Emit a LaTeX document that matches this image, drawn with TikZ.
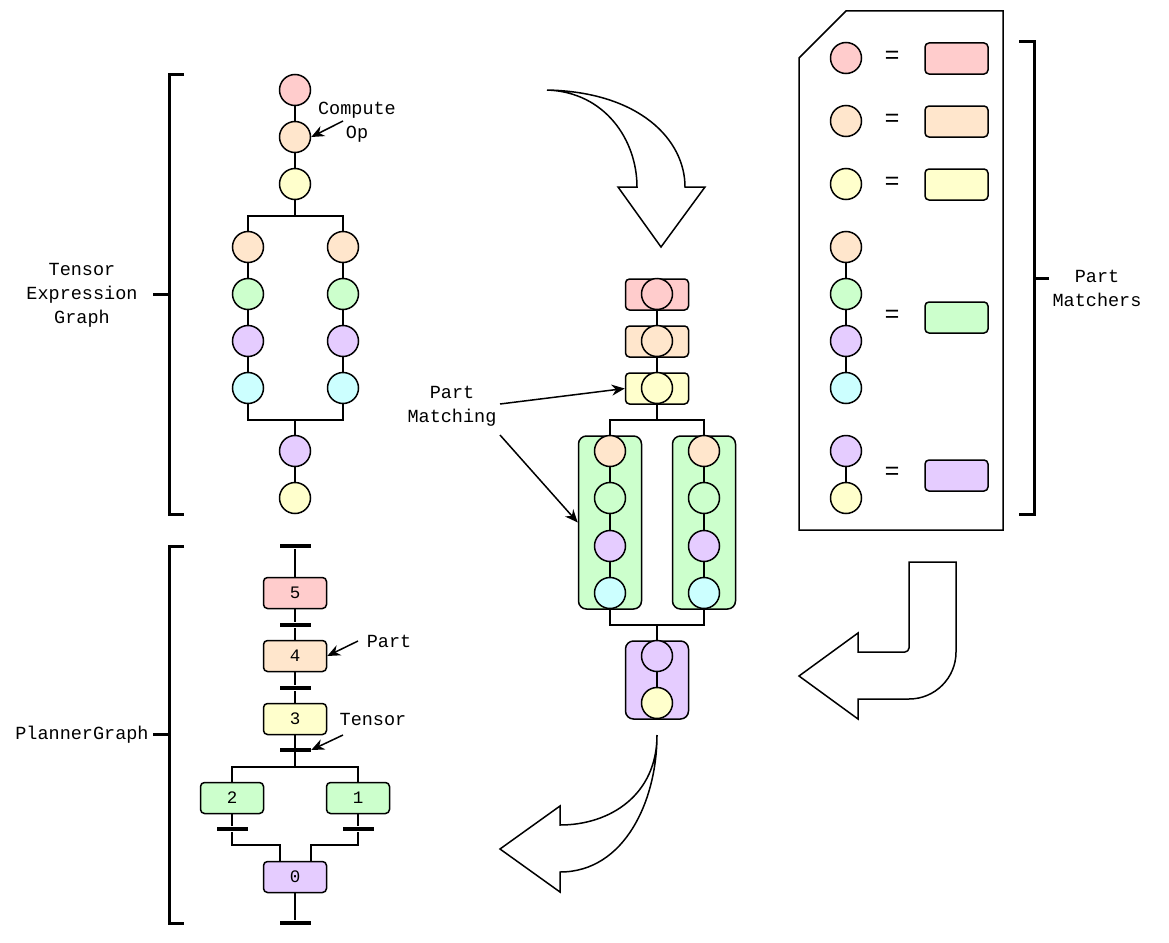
\documentclass[tikz,border=0pt]{standalone}
\usepackage{fontspec}
\setmainfont{Liberation Mono}
\usetikzlibrary{arrows.meta}

\definecolor{cred}{HTML}{FFCCCC}
\definecolor{corange}{HTML}{FFE6CC}
\definecolor{cyellow}{HTML}{FFFFCC}
\definecolor{cgreen}{HTML}{CCFFCC}
\definecolor{cpurple}{HTML}{E5CCFF}
\definecolor{ccyan}{HTML}{CCFFFF}

\begin{document}
\begin{tikzpicture}[x=1pt,y=-1pt,line width=1.5pt,
  op/.style={circle,draw,minimum size=31,inner sep=0},
  part/.style={draw,rounded corners=4,minimum width=63,minimum height=31,inner sep=0,font=\fontsize{17.5}{20}\selectfont},
  group/.style={draw,rounded corners=8,minimum width=63,inner sep=0},
  bar/.style={fill=black,minimum width=31,minimum height=4.5,inner sep=0},
  brace/.style={line width=3pt},
  lbl/.style={align=center,font=\fontsize{18.5}{24}\selectfont},
  eq/.style={font=\fontsize{25}{25}\selectfont},
  pointer/.style={-{Stealth[length=13pt,width=11pt]}},
  bigarrow/.style={draw,fill=white,line join=miter}]

\useasboundingbox (0,0) rectangle (1169,942);

% tensor expression graph
\node[op,fill=cred] (c1) at (295,90) {};
\node[op,fill=corange] (c2) at (295,137) {};
\node[op,fill=cyellow] (c3) at (295,184) {};
\node[op,fill=corange] (l1) at (248,247) {};
\node[op,fill=cgreen] (l2) at (248,294) {};
\node[op,fill=cpurple] (l3) at (248,341) {};
\node[op,fill=ccyan] (l4) at (248,388) {};
\node[op,fill=corange] (r1) at (343,247) {};
\node[op,fill=cgreen] (r2) at (343,294) {};
\node[op,fill=cpurple] (r3) at (343,341) {};
\node[op,fill=ccyan] (r4) at (343,388) {};
\node[op,fill=cpurple] (c4) at (295,451) {};
\node[op,fill=cyellow] (c5) at (295,498) {};
\coordinate (j1) at (295,216);
\coordinate (j2) at (295,420);

\draw (c1) -- (c2) -- (c3) -- (j1);
\draw (l1) |- (j1) -| (r1);
\draw (l1) -- (l2) -- (l3) -- (l4);
\draw (r1) -- (r2) -- (r3) -- (r4);
\draw (l4) |- (j2) -| (r4);
\draw (j2) -- (c4) -- (c5);

\draw[brace] (184,74) -- (169,74) -- (169,514) -- (184,514);
\draw[brace] (153,294) -- (169,294);
\node[lbl] (teg) at (82,295) {Tensor\\Expression\\Graph};

\node[lbl] (cop) at (357,122) {Compute\\Op};
\coordinate (p1) at (343,121);
\draw[pointer] (p1) -- (c2.east);

% planner graph
\node[bar] (t6) at (295,546) {};
\node[part,fill=cred] (b5) at (295,593) {5};
\node[bar] (t5) at (295,625) {};
\node[part,fill=corange] (b4) at (295,656) {4};
\node[bar] (t4) at (295,688) {};
\node[part,fill=cyellow] (b3) at (295,719) {3};
\node[bar] (t3) at (295,750) {};
\node[part,fill=cgreen] (b2) at (232,798) {2};
\node[part,fill=cgreen] (b1) at (358,798) {1};
\node[bar] (t2) at (232,829) {};
\node[bar] (t1) at (358,829) {};
\node[part,fill=cpurple] (b0) at (295,877) {0};
\node[bar] (t0) at (295,923) {};
\coordinate (j3) at (295,767);
\coordinate (k2) at (280,845);
\coordinate (k1) at (311,845);

\draw (t6) -- (b5);
\draw (b5) -- (t5);
\draw (t5) -- (b4);
\draw (b4) -- (t4);
\draw (t4) -- (b3);
\draw (b3) -- (j3);
\draw (b2) |- (j3) -| (b1);
\draw (b2) -- (t2);
\draw (b1) -- (t1);
\draw (t2) |- (k2) -- (k2 |- b0.north);
\draw (t1) |- (k1) -- (k1 |- b0.north);
\draw (b0) -- (t0);

\draw[brace] (184,546) -- (169,546) -- (169,923) -- (184,923);
\draw[brace] (153,734) -- (169,734);
\node[lbl] (pg) at (82,735) {PlannerGraph};

\node[lbl] (lpart) at (389,641) {Part};
\coordinate (p2) at (358,641);
\draw[pointer] (p2) -- (b4.east);
\node[lbl] (ltensor) at (373,719) {Tensor};
\coordinate (p3) at (343,735);
\draw[pointer] (p3) -- (t3.east);

% matched graph
\node[part,fill=cred] (m5) at (657,294.5) {};
\node[part,fill=corange] (m4) at (657,341.5) {};
\node[part,fill=cyellow] (m3) at (657,388.5) {};
\node[group,fill=cgreen,minimum height=173] (gl) at (610,522.5) {};
\node[group,fill=cgreen,minimum height=173] (gr) at (704,522.5) {};
\node[group,fill=cpurple,minimum height=78] (gp) at (657,680) {};
\coordinate (j4) at (657,420);
\coordinate (j5) at (657,625);

\draw (m5) -- (m4);
\draw (m4) -- (m3);
\draw (m3) -- (j4);
\draw (gl) |- (j4) -| (gr);
\draw (gl) |- (j5) -| (gr);
\draw (j5) -- (gp);

\node[op,fill=cred] (n1) at (657,294) {};
\node[op,fill=corange] (n2) at (657,341) {};
\node[op,fill=cyellow] (n3) at (657,388) {};
\node[op,fill=corange] (gl1) at (610,451) {};
\node[op,fill=cgreen] (gl2) at (610,498) {};
\node[op,fill=cpurple] (gl3) at (610,546) {};
\node[op,fill=ccyan] (gl4) at (610,593) {};
\node[op,fill=corange] (gr1) at (704,451) {};
\node[op,fill=cgreen] (gr2) at (704,498) {};
\node[op,fill=cpurple] (gr3) at (704,546) {};
\node[op,fill=ccyan] (gr4) at (704,593) {};
\node[op,fill=cpurple] (gp1) at (657,656) {};
\node[op,fill=cyellow] (gp2) at (657,703) {};
\draw (gl1) -- (gl2) -- (gl3) -- (gl4);
\draw (gr1) -- (gr2) -- (gr3) -- (gr4);
\draw (gp1) -- (gp2);

\node[lbl] (lmatch) at (452,406) {Part\\Matching};
\coordinate (p4) at (500,404);
\coordinate (p5) at (500,435);
\draw[pointer] (p4) -- (m3.west);
\draw[pointer] (p5) -- (gl.west);

% part matchers
\draw (799,58) -- (846,11) -- (1003,11) -- (1003,530) -- (799,530) -- cycle;

\node[op,fill=cred] (q1) at (846,58) {};
\node[eq] at (892,57) {=};
\node[part,fill=cred] (s1) at (956.5,58.5) {};
\node[op,fill=corange] (q2) at (846,121) {};
\node[eq] at (892,120) {=};
\node[part,fill=corange] (s2) at (956.5,121.5) {};
\node[op,fill=cyellow] (q3) at (846,184) {};
\node[eq] at (892,183) {=};
\node[part,fill=cyellow] (s3) at (956.5,184.5) {};

\node[op,fill=corange] (q4) at (846,247) {};
\node[op,fill=cgreen] (q5) at (846,294) {};
\node[op,fill=cpurple] (q6) at (846,341) {};
\node[op,fill=ccyan] (q7) at (846,388) {};
\draw (q4) -- (q5) -- (q6) -- (q7);
\node[eq] at (892,316) {=};
\node[part,fill=cgreen] (s4) at (956.5,317.5) {};

\node[op,fill=cpurple] (q8) at (846,451) {};
\node[op,fill=cyellow] (q9) at (846,498) {};
\draw (q8) -- (q9);
\node[eq] at (892,473) {=};
\node[part,fill=cpurple] (s5) at (956.5,475.5) {};

\draw[brace] (1019,42) -- (1034,42) -- (1034,514) -- (1019,514);
\draw[brace] (1049,278) -- (1034,278);
\node[lbl] (lmatchers) at (1097,288) {Part\\Matchers};

% big arrows
\draw[bigarrow] (547,90) .. controls (605,92) and (637,140) .. (637,187)
  -- (618,187) -- (661,247) -- (705,187) -- (685,187)
  .. controls (685,140) and (640,92) .. (547,90) -- cycle;
\draw[bigarrow] (909,562) -- (956,562) -- (956,652)
  .. controls (956,678) and (935,699) .. (909,699)
  -- (858,699) -- (858,719) -- (799,676) -- (858,633) -- (858,652) -- (905,652)
  .. controls (907,652) and (909,650) .. (909,648) -- cycle;
\draw[bigarrow] (657,735) .. controls (657,795) and (610,825) .. (560,825)
  -- (560,806) -- (500,849) -- (560,892) -- (560,872)
  .. controls (625,872) and (657,800) .. (657,735) -- cycle;

\end{tikzpicture}
\end{document}
